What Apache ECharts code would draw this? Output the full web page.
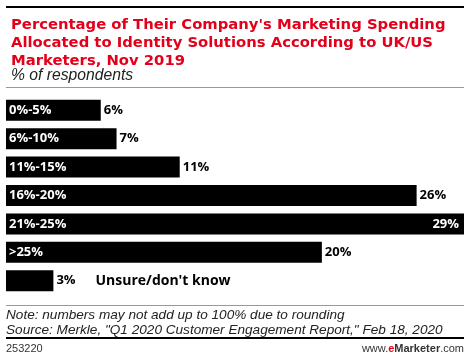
<!DOCTYPE html>
<html><head><meta charset="utf-8">
<script src="https://cdn.jsdelivr.net/npm/echarts@6/dist/echarts.min.js"></script>
<style>html,body{margin:0;padding:0;background:#fff}#c{width:470px;height:361px}</style>
</head><body><div id="c"></div>
<script>
var categories = ["0%-5%", "6%-10%", "11%-15%", "16%-20%", "21%-25%", ">25%", "Unsure/don't know"];
var values = [6, 7, 11, 26, 29, 20, 3];

var chart = echarts.init(document.getElementById('c'), null, {renderer: 'canvas'});
var BOLD = 'Open Sans';
var mainData = values.map(function (v, i) {
  var last = i === categories.length - 1;
  return {value: v, label: {show: !last}};
});
var valData = values.map(function (v, i) {
  var item = {value: v};
  if (v === Math.max.apply(null, values)) {
    item.label = {position: 'insideRight', color: '#fff', distance: 5};
  }
  if (i === categories.length - 1) {
    item.label = {formatter: '{v|' + v + '%}{c|' + categories[i] + '}'};
  }
  return item;
});
chart.setOption({
  animation: false,
  title: [{
    text: "Percentage of Their Company's Marketing Spending\nAllocated to Identity Solutions According to UK/US\nMarketers, Nov 2019",
    left: 6, top: 11,
    textStyle: {color: '#e3001b', fontFamily: 'DejaVu Sans', fontWeight: 'bold', fontSize: 14.8, lineHeight: 18}
  }, {
    text: '% of respondents',
    left: 6, top: 63,
    textStyle: {color: '#222', fontFamily: 'Liberation Sans', fontStyle: 'italic', fontWeight: 'normal', fontSize: 15.7}
  }],
  grid: {left: 6, right: 6, top: 96, height: 199},
  xAxis: {type: 'value', min: 0, max: 29, show: false},
  yAxis: {type: 'category', data: categories, inverse: true, show: false},
  series: [{
    type: 'bar', data: mainData, barWidth: 21,
    itemStyle: {color: '#000'},
    label: {show: true, position: 'insideLeft', distance: 3, color: '#fff',
      fontFamily: BOLD, fontWeight: 'bold', fontSize: 13,
      formatter: function (p) { return categories[p.dataIndex]; }}
  }, {
    type: 'bar', data: valData, barWidth: 21, barGap: '-100%',
    itemStyle: {color: 'rgba(0,0,0,0)'},
    label: {show: true, position: 'right', distance: 3, color: '#000',
      fontFamily: BOLD, fontWeight: 'bold', fontSize: 13,
      formatter: '{c}%',
      rich: {
        v: {fontFamily: BOLD, fontWeight: 'bold', fontSize: 13, color: '#000'},
        c: {fontFamily: BOLD, fontWeight: 'bold', fontSize: 14, color: '#000', padding: [0, 0, 0, 20]}
      }}
  }],
  graphic: [
    {type: 'rect', shape: {x: 6, y: 6, width: 458, height: 2}, style: {fill: '#000'}},
    {type: 'rect', shape: {x: 6, y: 87, width: 458, height: 1}, style: {fill: '#999'}},
    {type: 'rect', shape: {x: 6, y: 305, width: 458, height: 1}, style: {fill: '#999'}},
    {type: 'text', left: 6, top: 308, style: {text: 'Note: numbers may not add up to 100% due to rounding\nSource: Merkle, "Q1 2020 Customer Engagement Report," Feb 18, 2020',
      font: 'italic 13.6px "Liberation Sans"', fill: '#222', lineHeight: 14.5}},
    {type: 'rect', shape: {x: 6, y: 337, width: 458, height: 2}, style: {fill: '#000'}},
    {type: 'text', left: 6, top: 343, style: {text: '253220', font: '11px "Liberation Sans"', fill: '#333'}},
    {type: 'text', right: 6, top: 343, style: {
      text: '{a|www.}{e|e}{m|Marketer}{a|.com}',
      rich: {
        a: {font: '11px "Liberation Sans"', fill: '#333'},
        e: {font: 'bold 11px "Liberation Sans"', fill: '#e3001b'},
        m: {font: 'bold 11px "Liberation Sans"', fill: '#333'}
      }}}
  ]
});
</script></body></html>
